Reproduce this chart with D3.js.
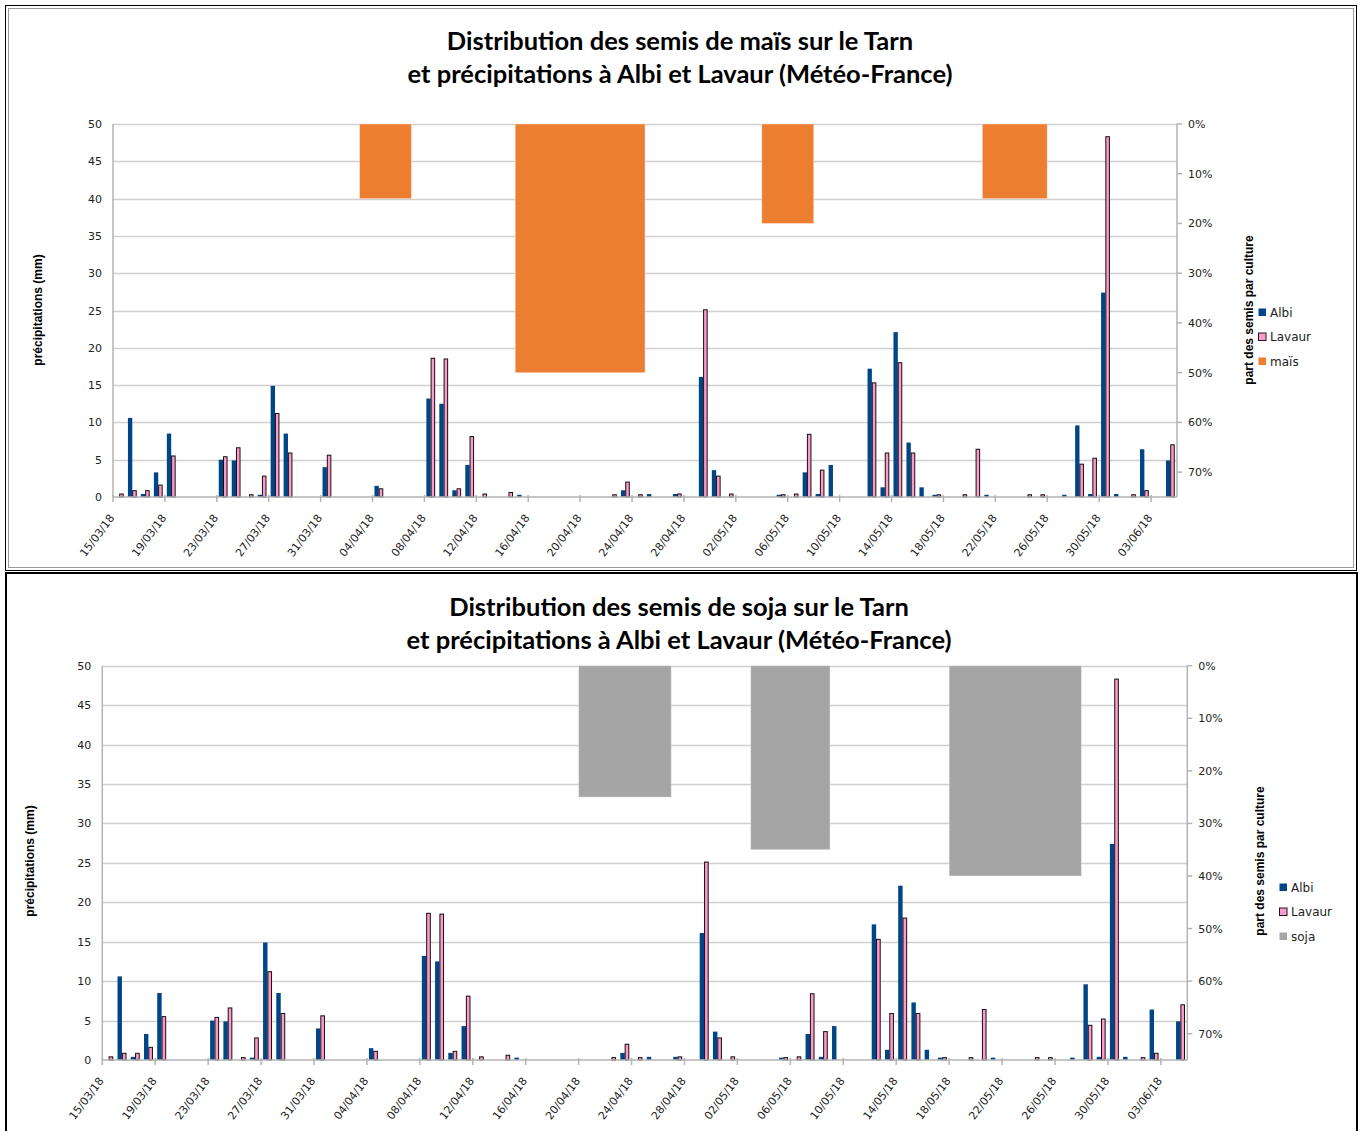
<!DOCTYPE html>
<html>
<head>
<meta charset="utf-8">
<script src="https://cdn.jsdelivr.net/npm/d3@7"></script>
<style>
  body { margin: 0; background: #fff; }
  svg { display: block; }
  .tick-label { font-family: "DejaVu Sans", Verdana, sans-serif; font-size: 11px; fill: #222; }
  .axis-title { font-family: "Liberation Sans Narrow", "Liberation Sans", Arial, sans-serif; font-weight: bold; font-size: 12px; fill: #000; }
  .chart-title { font-family: Lato, "Open Sans", sans-serif; font-weight: bold; font-size: 25.5px; fill: #000; }
  .legend-label { font-family: "DejaVu Sans", Verdana, sans-serif; font-size: 12px; fill: #222; }
</style>
</head>
<body>
<div id="chart-area"></div>
<script>
// daily categories (15/03/18 -> 04/06/18)
const dates = [
  '15/03/18','16/03/18','17/03/18','18/03/18','19/03/18','20/03/18','21/03/18','22/03/18','23/03/18','24/03/18',
  '25/03/18','26/03/18','27/03/18','28/03/18','29/03/18','30/03/18','31/03/18',
  '01/04/18','02/04/18','03/04/18','04/04/18','05/04/18','06/04/18','07/04/18','08/04/18','09/04/18','10/04/18',
  '11/04/18','12/04/18','13/04/18','14/04/18','15/04/18','16/04/18','17/04/18','18/04/18','19/04/18','20/04/18',
  '21/04/18','22/04/18','23/04/18','24/04/18','25/04/18','26/04/18','27/04/18','28/04/18','29/04/18','30/04/18',
  '01/05/18','02/05/18','03/05/18','04/05/18','05/05/18','06/05/18','07/05/18','08/05/18','09/05/18','10/05/18',
  '11/05/18','12/05/18','13/05/18','14/05/18','15/05/18','16/05/18','17/05/18','18/05/18','19/05/18','20/05/18',
  '21/05/18','22/05/18','23/05/18','24/05/18','25/05/18','26/05/18','27/05/18','28/05/18','29/05/18','30/05/18',
  '31/05/18','01/06/18','02/06/18','03/06/18','04/06/18'
];

// daily rainfall (mm)
const albi = [
  0, 10.6, 0.4, 3.3, 8.5, 0, 0, 0, 5.0, 4.9,
  0, 0.3, 14.9, 8.5, 0, 0, 4.0,
  0, 0, 0, 1.5, 0, 0, 0, 13.2, 12.5, 0.9,
  4.3, 0, 0, 0, 0.3, 0, 0, 0, 0, 0,
  0, 0, 0.9, 0, 0.4, 0, 0.4, 0, 16.1, 3.6,
  0, 0, 0, 0, 0.3, 0, 3.3, 0.4, 4.3, 0,
  0, 17.2, 1.3, 22.1, 7.3, 1.3, 0.3, 0, 0, 0,
  0.3, 0, 0, 0, 0, 0, 0.3, 9.6, 0.4, 27.4,
  0.4, 0, 6.4, 0, 4.9
];
const lavaur = [
  0.4, 0.85, 0.85, 1.6, 5.5, 0, 0, 0, 5.4, 6.6,
  0.3, 2.8, 11.2, 5.9, 0, 0, 5.6,
  0, 0, 0, 1.1, 0, 0, 0, 18.6, 18.5, 1.1,
  8.1, 0.4, 0, 0.6, 0, 0, 0, 0, 0, 0,
  0, 0.3, 2.0, 0.3, 0, 0, 0.4, 0, 25.1, 2.8,
  0.4, 0, 0, 0, 0.3, 0.4, 8.4, 3.6, 0, 0,
  0, 15.3, 5.9, 18.0, 5.9, 0, 0.3, 0, 0.3, 6.4,
  0, 0, 0, 0.3, 0.3, 0, 0, 4.4, 5.2, 48.3,
  0, 0.3, 0.85, 0, 7.0
];

// sowing periods and share of sowings (%)
const maisStart = ['03/04/18', '15/04/18', '04/05/18', '21/05/18'];
const maisEnd = ['06/04/18', '24/04/18', '07/05/18', '25/05/18'];
const maisShare = [15, 50, 20, 15];

const sojaStart = ['20/04/18', '03/05/18', '18/05/18'];
const sojaEnd = ['26/04/18', '08/05/18', '27/05/18'];
const sojaShare = [25, 35, 40];

const rainTicks = [0, 5, 10, 15, 20, 25, 30, 35, 40, 45, 50];
const shareTicks = [0, 10, 20, 30, 40, 50, 60, 70];

const colours = { albi: '#004586', lavaur: '#ff99cc', mais: '#ed7d31', soja: '#a5a5a5' };

const svg = d3.select('#chart-area').append('svg')
  .attr('width', 1361)
  .attr('height', 1131);

// panel frames
svg.append('rect')
  .attr('x', 5.5).attr('y', 5.5).attr('width', 1351).attr('height', 565)
  .attr('fill', 'none').attr('stroke', '#000').attr('stroke-width', 1);
svg.append('rect')
  .attr('x', 8.5).attr('y', 8.5).attr('width', 1345).attr('height', 559)
  .attr('fill', 'none').attr('stroke', '#999').attr('stroke-width', 1);
svg.append('rect')
  .attr('x', 6).attr('y', 573).attr('width', 1351).attr('height', 570)
  .attr('fill', 'none').attr('stroke', '#000').attr('stroke-width', 2);

const panels = [
  {
    title: ['Distribution des semis de maïs sur le Tarn', 'et précipitations à Albi et Lavaur (Météo-France)'],
    titleX: 680, titleY: [50, 83],
    left: 113, right: 1177, top: 124, bottom: 497,
    leftTitle: { x: 42, y: 310 }, rightTitle: { x: 1253, y: 310 },
    legend: { x: 1258, y: 308 },
    crop: 'maïs', colour: colours.mais,
    start: maisStart, end: maisEnd, share: maisShare
  },
  {
    title: ['Distribution des semis de soja sur le Tarn', 'et précipitations à Albi et Lavaur (Météo-France)'],
    titleX: 679, titleY: [616, 649],
    left: 102.3, right: 1187.3, top: 665.7, bottom: 1060,
    leftTitle: { x: 34, y: 861 }, rightTitle: { x: 1264, y: 861 },
    legend: { x: 1279, y: 883 },
    crop: 'soja', colour: colours.soja,
    start: sojaStart, end: sojaEnd, share: sojaShare
  }
];

panels.forEach(p => {
  const g = svg.append('g');

  const x = d3.scaleBand()
    .domain(dates)
    .range([p.left, p.right]);
  const bw = x.bandwidth();

  const xSub = d3.scaleBand()
    .domain(['albi', 'lavaur'])
    .range([bw * 0.15, bw * 0.82]);

  const y = d3.scaleLinear()
    .domain([0, 50])
    .range([p.bottom, p.top]);

  // secondary axis, 0% at the top
  const y2 = d3.scaleLinear()
    .domain([0, 75])
    .range([p.top, p.bottom]);

  // title
  p.title.forEach((t, i) => {
    g.append('text')
      .attr('class', 'chart-title')
      .attr('x', p.titleX)
      .attr('y', p.titleY[i])
      .attr('text-anchor', 'middle')
      .text(t);
  });

  // gridlines
  g.selectAll('.grid')
    .data(rainTicks.slice(1))
    .enter().append('line')
    .attr('x1', p.left).attr('x2', p.right)
    .attr('y1', d => Math.round(y(d)) + 0.5)
    .attr('y2', d => Math.round(y(d)) + 0.5)
    .attr('stroke', '#cfcfcf')
    .attr('stroke-width', 1.5);

  // sowing share blocks
  g.selectAll('.share')
    .data(p.share)
    .enter().append('rect')
    .attr('x', (d, i) => x(p.start[i]))
    .attr('width', (d, i) => x(p.end[i]) + bw - x(p.start[i]))
    .attr('y', y2(0))
    .attr('height', d => y2(d) - y2(0))
    .attr('fill', p.colour)
    .attr('stroke', '#fff')
    .attr('stroke-opacity', 0.35)
    .attr('stroke-width', 1);

  // rainfall bars
  g.selectAll('.albi')
    .data(albi.map((v, i) => ({ date: dates[i], v })).filter(d => d.v > 0))
    .enter().append('rect')
    .attr('x', d => x(d.date) + xSub('albi'))
    .attr('width', xSub.bandwidth())
    .attr('y', d => y(d.v))
    .attr('height', d => p.bottom - y(d.v))
    .attr('fill', colours.albi);

  g.selectAll('.lavaur')
    .data(lavaur.map((v, i) => ({ date: dates[i], v })).filter(d => d.v > 0))
    .enter().append('rect')
    .attr('x', d => x(d.date) + xSub('lavaur') + 0.4)
    .attr('width', xSub.bandwidth() - 0.8)
    .attr('y', d => y(d.v))
    .attr('height', d => p.bottom - y(d.v))
    .attr('fill', colours.lavaur)
    .attr('stroke', '#111')
    .attr('stroke-width', 1);

  // axis lines
  g.append('line')
    .attr('x1', p.left).attr('x2', p.left)
    .attr('y1', p.top).attr('y2', p.bottom)
    .attr('stroke', '#b3b3b3').attr('stroke-width', 1.5);
  g.append('line')
    .attr('x1', p.right).attr('x2', p.right)
    .attr('y1', p.top).attr('y2', p.bottom)
    .attr('stroke', '#b3b3b3').attr('stroke-width', 1.5);
  g.append('line')
    .attr('x1', p.left).attr('x2', p.right)
    .attr('y1', p.bottom).attr('y2', p.bottom)
    .attr('stroke', '#b3b3b3').attr('stroke-width', 1.5);

  // x ticks + labels every 4 days
  const labelDates = dates.filter((d, i) => i % 4 === 0);
  g.selectAll('.xtick')
    .data(labelDates)
    .enter().append('line')
    .attr('x1', d => x(d)).attr('x2', d => x(d))
    .attr('y1', p.bottom - 2).attr('y2', p.bottom + 5)
    .attr('stroke', '#b3b3b3').attr('stroke-width', 1.5);

  g.selectAll('.xlabel')
    .data(labelDates)
    .enter().append('text')
    .attr('class', 'tick-label')
    .attr('text-anchor', 'end')
    .attr('transform', d => `translate(${x(d) + 2}, ${p.bottom + 21}) rotate(-53)`)
    .text(d => d);

  // left axis labels
  g.selectAll('.ylabel')
    .data(rainTicks)
    .enter().append('text')
    .attr('class', 'tick-label')
    .attr('x', p.left - 11)
    .attr('y', d => y(d) + 4)
    .attr('text-anchor', 'end')
    .text(d => d);

  // right axis ticks + labels
  g.selectAll('.y2tick')
    .data(shareTicks)
    .enter().append('line')
    .attr('x1', p.right).attr('x2', p.right + 5)
    .attr('y1', d => y2(d)).attr('y2', d => y2(d))
    .attr('stroke', '#b3b3b3').attr('stroke-width', 1.5);

  g.selectAll('.y2label')
    .data(shareTicks)
    .enter().append('text')
    .attr('class', 'tick-label')
    .attr('x', p.right + 11)
    .attr('y', d => y2(d) + 4)
    .text(d => d + '%');

  // axis titles
  g.append('text')
    .attr('class', 'axis-title')
    .attr('transform', `translate(${p.leftTitle.x}, ${p.leftTitle.y}) rotate(-90)`)
    .attr('text-anchor', 'middle')
    .text('précipitations (mm)');

  g.append('text')
    .attr('class', 'axis-title')
    .attr('transform', `translate(${p.rightTitle.x}, ${p.rightTitle.y}) rotate(-90)`)
    .attr('text-anchor', 'middle')
    .text('part des semis par culture');

  // legend
  const items = [
    { name: 'Albi', fill: colours.albi, stroke: 'none' },
    { name: 'Lavaur', fill: colours.lavaur, stroke: '#1a1a1a' },
    { name: p.crop, fill: p.colour, stroke: 'none' }
  ];
  items.forEach((el, i) => {
    const row = g.append('g')
      .attr('transform', `translate(${p.legend.x}, ${p.legend.y + i * 24.5})`);
    row.append('rect')
      .attr('x', 0.5).attr('y', 0.5)
      .attr('width', 7.5).attr('height', 7.5)
      .attr('fill', el.fill)
      .attr('stroke', el.stroke)
      .attr('stroke-width', 1);
    row.append('text')
      .attr('class', 'legend-label')
      .attr('x', 12)
      .attr('y', 8.5)
      .text(el.name);
  });
});
</script>
</body>
</html>
